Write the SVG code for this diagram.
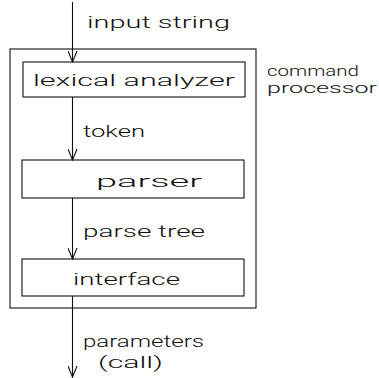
<svg xmlns="http://www.w3.org/2000/svg" width="379" height="378" viewBox="0 0 379 378">
  <defs>
    <style>
      .box { fill: none; stroke: #111; stroke-width: 1.1; }
      .flow { fill: none; stroke: #111; stroke-width: 1.1; }
      .lbl { font-family: Roboto, "Liberation Sans", "DejaVu Sans", sans-serif; font-weight: 300; font-size: 17px; fill: #111; }
      .side { font-size: 14.5px; }
    </style>
    <marker id="vhead" viewBox="0 0 12 10" refX="11" refY="5" markerWidth="12" markerHeight="10" markerUnits="userSpaceOnUse" orient="auto">
      <path d="M0,0.5 L11,5 L0,9.5" fill="none" stroke="#111" stroke-width="1.1"/>
    </marker>
  </defs>
  <rect width="379" height="378" fill="#fff"/>

  <!-- enclosing command processor -->
  <g id="command-processor">
    <rect class="box" x="10" y="49" width="246" height="259"/>
    <text class="lbl side" x="267" y="76" textLength="92" lengthAdjust="spacingAndGlyphs">command</text>
    <text class="lbl side" x="267" y="93" textLength="110" lengthAdjust="spacingAndGlyphs">processor</text>
  </g>

  <g id="lexical-analyzer">
    <rect class="box" x="23" y="62" width="222" height="35"/>
    <text class="lbl" x="33" y="86" textLength="202" lengthAdjust="spacingAndGlyphs">lexical analyzer</text>
  </g>

  <g id="parser">
    <rect class="box" x="22" y="160" width="222" height="38"/>
    <text class="lbl" x="96" y="187" textLength="106" lengthAdjust="spacingAndGlyphs">parser</text>
  </g>

  <g id="interface">
    <rect class="box" x="22" y="259" width="222" height="37"/>
    <text class="lbl" x="73" y="285" textLength="107" lengthAdjust="spacingAndGlyphs">interface</text>
  </g>

  <!-- data flow between stages -->
  <g id="connectors">
    <line class="flow" x1="72.5" y1="2" x2="72.5" y2="62" marker-end="url(#vhead)"/>
    <line class="flow" x1="72.5" y1="97" x2="72.5" y2="160" marker-end="url(#vhead)"/>
    <line class="flow" x1="72.5" y1="198" x2="72.5" y2="259" marker-end="url(#vhead)"/>
    <line class="flow" x1="72.5" y1="296" x2="72.5" y2="377" marker-end="url(#vhead)"/>
    <text class="lbl" x="87" y="28" textLength="143" lengthAdjust="spacingAndGlyphs">input string</text>
    <text class="lbl" x="83" y="137" textLength="62" lengthAdjust="spacingAndGlyphs">token</text>
    <text class="lbl" x="83" y="237" textLength="122" lengthAdjust="spacingAndGlyphs">parse tree</text>
    <text class="lbl" x="83" y="347" textLength="121" lengthAdjust="spacingAndGlyphs">parameters</text>
    <text class="lbl" x="98" y="368" textLength="65" lengthAdjust="spacingAndGlyphs">(call)</text>
  </g>
</svg>
